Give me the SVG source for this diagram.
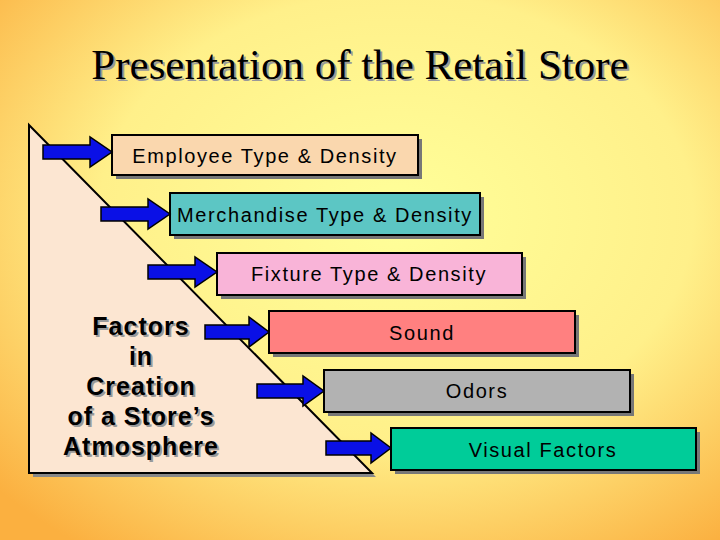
<svg xmlns="http://www.w3.org/2000/svg" width="720" height="540" viewBox="0 0 720 540">
<defs>
<radialGradient id="bg" cx="0.55" cy="0.4" r="0.75">
<stop offset="0" stop-color="#FFFF99"/><stop offset="0.55" stop-color="#FFF08A"/><stop offset="1" stop-color="#FBB040"/>
</radialGradient>
<style>
.box{stroke:#000;stroke-width:2}
.sh{fill:#777}
.t{font-family:"Liberation Sans",Arial,sans-serif;font-size:20px;letter-spacing:1.6px;text-anchor:middle;fill:#000}
.arr{fill:#0A10E6;stroke:#000;stroke-width:1.5}
</style>
</defs>
<rect width="720" height="540" fill="url(#bg)"/>
<text x="360" y="79" font-family="Liberation Serif,serif" font-size="43" text-anchor="middle" fill="#000" style="text-shadow:2px 2px 0 #999">Presentation of the Retail Store</text>
<g id="triangle">
<polygon points="33,129 33,477 376,477" fill="#888"/>
<polygon points="29,125 29,473 372,473" fill="#FCE6D2" stroke="#000" stroke-width="2"/>
<g font-family="Liberation Sans,Arial,sans-serif" font-size="25" font-weight="bold" letter-spacing="1" text-anchor="middle" fill="#000" style="text-shadow:2px 2px 0 #999">
<text x="141" y="335">Factors</text><text x="141" y="365">in</text><text x="141" y="395">Creation</text><text x="141" y="425">of a Store’s</text><text x="141" y="455">Atmosphere</text>
</g>
</g>
<g id="n1"><rect class="sh" x="116" y="139" width="306" height="40"/><rect class="box" x="112" y="135" width="306" height="40" fill="#FAD7AE"/><text class="t" x="265" y="163">Employee Type &amp; Density</text></g>
<g id="n2"><rect class="sh" x="174" y="197" width="310" height="42"/><rect class="box" x="170" y="193" width="310" height="42" fill="#5CC6C4"/><text class="t" x="325" y="222">Merchandise Type &amp; Density</text></g>
<g id="n3"><rect class="sh" x="221" y="257" width="305" height="42"/><rect class="box" x="217" y="253" width="305" height="42" fill="#F9B4D8"/><text class="t" x="369" y="281">Fixture Type &amp; Density</text></g>
<g id="n4"><rect class="sh" x="273" y="315" width="306" height="42"/><rect class="box" x="269" y="311" width="306" height="42" fill="#FF8080"/><text class="t" x="422" y="340">Sound</text></g>
<g id="n5"><rect class="sh" x="328" y="374" width="306" height="42"/><rect class="box" x="324" y="370" width="306" height="42" fill="#B2B2B2"/><text class="t" x="477" y="398">Odors</text></g>
<g id="n6"><rect class="sh" x="395" y="432" width="305" height="42"/><rect class="box" x="391" y="428" width="305" height="42" fill="#00CC99"/><text class="t" x="543" y="457">Visual Factors</text></g>
<g id="connectors">
<polygon class="arr" transform="translate(43,152)" points="0,-7 47,-7 47,-15 69,0 47,15 47,7 0,7"/>
<polygon class="arr" transform="translate(101,214)" points="0,-7 47,-7 47,-15 69,0 47,15 47,7 0,7"/>
<polygon class="arr" transform="translate(148,272)" points="0,-7 47,-7 47,-15 69,0 47,15 47,7 0,7"/>
<polygon class="arr" transform="translate(205,332)" points="0,-7 44,-7 44,-15 64,0 44,15 44,7 0,7"/>
<polygon class="arr" transform="translate(257,391)" points="0,-7 46,-7 46,-15 67,0 46,15 46,7 0,7"/>
<polygon class="arr" transform="translate(326,448)" points="0,-7 45,-7 45,-15 65,0 45,15 45,7 0,7"/>
</g>
</svg>
